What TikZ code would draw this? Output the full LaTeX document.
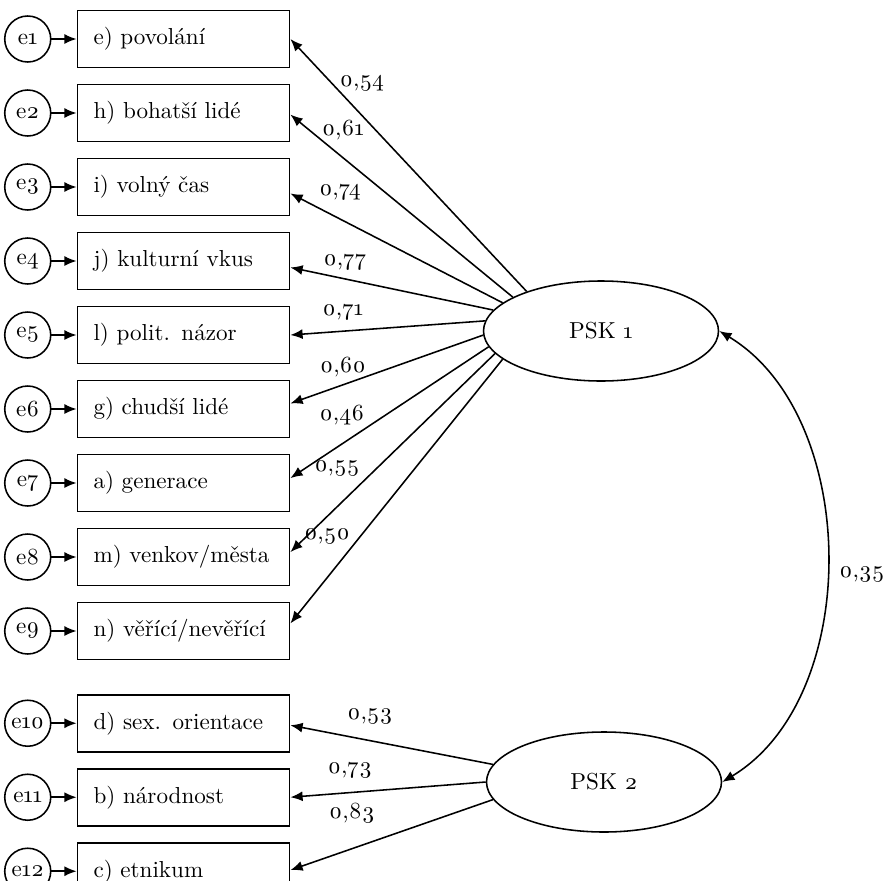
\documentclass[tikz,border=0pt]{standalone}
\usepackage{fontspec}
\setmainfont{lmroman10-regular.otf}[Numbers=OldStyle]
\usetikzlibrary{shapes,arrows.meta,positioning}

\begin{document}
\begin{tikzpicture}[x=0.45pt, y=-0.45pt, node distance=6.8pt and 11.3pt, font=\fontsize{10.4}{12.5}\selectfont]
    \tikzset{
        ind/.style      =   { rectangle
                            , draw=black
                            , line width=0.8pt
                            , text width=81pt
                            , align=left
                            , inner xsep=7.2pt
                            , minimum height=25.7pt
        }
        , err/.style    =   { circle
                            , draw=black
                            , line width=0.7pt
                            , minimum size=20.7pt
                            , inner sep=0pt
        }
        , lat/.style    =   { ellipse
                            , draw=black
                            , line width=0.7pt
                            , minimum width=105.75pt
                            , minimum height=45pt
                            , inner sep=0pt
        }
        , load/.style   =   { line width=0.7pt
                            , -{Latex[length=5.5pt,width=4.5pt]}
        }
        , cov/.style    =   { line width=0.7pt
                            , {Latex[length=5.5pt,width=4.5pt]}-{Latex[length=5.5pt,width=4.5pt]}
        }
        , w/.style      =   { inner sep=0pt }
    }
    \useasboundingbox (0,0) rectangle (885,880);

    % indicators
    \node(i1)[ind] at (183.5,39) {e) povolání};
    \node(i2)[ind, below=of i1]  {h) bohatší lidé};
    \node(i3)[ind, below=of i2]  {i) volný čas};
    \node(i4)[ind, below=of i3]  {j) kulturní vkus};
    \node(i5)[ind, below=of i4]  {l) polit. názor};
    \node(i6)[ind, below=of i5]  {g) chudší lidé};
    \node(i7)[ind, below=of i6]  {a) generace};
    \node(i8)[ind, below=of i7]  {m) venkov/města};
    \node(i9)[ind, below=of i8]  {n) věřící/nevěřící};
    \node(i10)[ind, below=15pt of i9] {d) sex. orientace};
    \node(i11)[ind, below=of i10] {b) národnost};
    \node(i12)[ind, below=of i11] {c) etnikum};

    % errors
    \node(e1)[err, left=of i1]   {e1};
    \node(e2)[err, left=of i2]   {e2};
    \node(e3)[err, left=of i3]   {e3};
    \node(e4)[err, left=of i4]   {e4};
    \node(e5)[err, left=of i5]   {e5};
    \node(e6)[err, left=of i6]   {e6};
    \node(e7)[err, left=of i7]   {e7};
    \node(e8)[err, left=of i8]   {e8};
    \node(e9)[err, left=of i9]   {e9};
    \node(e10)[err, left=of i10] {e10};
    \node(e11)[err, left=of i11] {e11};
    \node(e12)[err, left=of i12] {e12};

    % factors
    \node(psk1)[lat] at (601,331) {PSK 1};
    \node(psk2)[lat] at (604,782) {PSK 2};

    \draw[load] (e1) -- (i1);
    \draw[load] (e2) -- (i2);
    \draw[load] (e3) -- (i3);
    \draw[load] (e4) -- (i4);
    \draw[load] (e5) -- (i5);
    \draw[load] (e6) -- (i6);
    \draw[load] (e7) -- (i7);
    \draw[load] (e8) -- (i8);
    \draw[load] (e9) -- (i9);
    \draw[load] (e10) -- (i10);
    \draw[load] (e11) -- (i11);
    \draw[load] (e12) -- (i12);

    \draw[load] (psk1.152.6) -- (i1.east);
    \draw[load] (psk1.159)   -- ([yshift=-0.7pt]i2.east);
    \draw[load] (psk1.164)   -- ([yshift=-2.9pt]i3.east);
    \draw[load] (psk1.169)   -- ([yshift=-2.9pt]i4.east);
    \draw[load] (psk1.175.6) -- (i5.east);
    \draw[load] (psk1.182.4) -- ([yshift=2.5pt]i6.east);
    \draw[load] (psk1.188.6) -- ([yshift=2.2pt]i7.east);
    \draw[load] (psk1.192.4) -- ([yshift=2.2pt]i8.east);
    \draw[load] (psk1.196.5) -- ([yshift=3.4pt]i9.east);

    \draw[load] (psk2.171.7) -- ([yshift=-0.9pt]i10.east);
    \draw[load] (psk2.180)   -- (i11.east);
    \draw[load] (psk2.189)   -- ([yshift=0.5pt]i12.east);

    \draw[cov] (psk1.east) .. controls +(141,85) and +(141,-85) .. (psk2.east);

    % weights
    \node(w1)[w]  at (362,83)  {0,54};
    \node(w2)[w]  at (343,130) {0,61};
    \node(w3)[w]  at (340,192) {0,74};
    \node(w4)[w]  at (345,262) {0,77};
    \node(w5)[w]  at (343,312) {0,71};
    \node(w6)[w]  at (343,367) {0,60};
    \node(w7)[w]  at (342,415) {0,46};
    \node(w8)[w]  at (337,469) {0,55};
    \node(w9)[w]  at (327,537) {0,50};
    \node(w10)[w] at (370,717) {0,53};
    \node(w11)[w] at (350,770) {0,73};
    \node(w12)[w] at (352,813) {0,83};
    \node(w13)[w] at (862,575) {0,35};
\end{tikzpicture}
\end{document}
